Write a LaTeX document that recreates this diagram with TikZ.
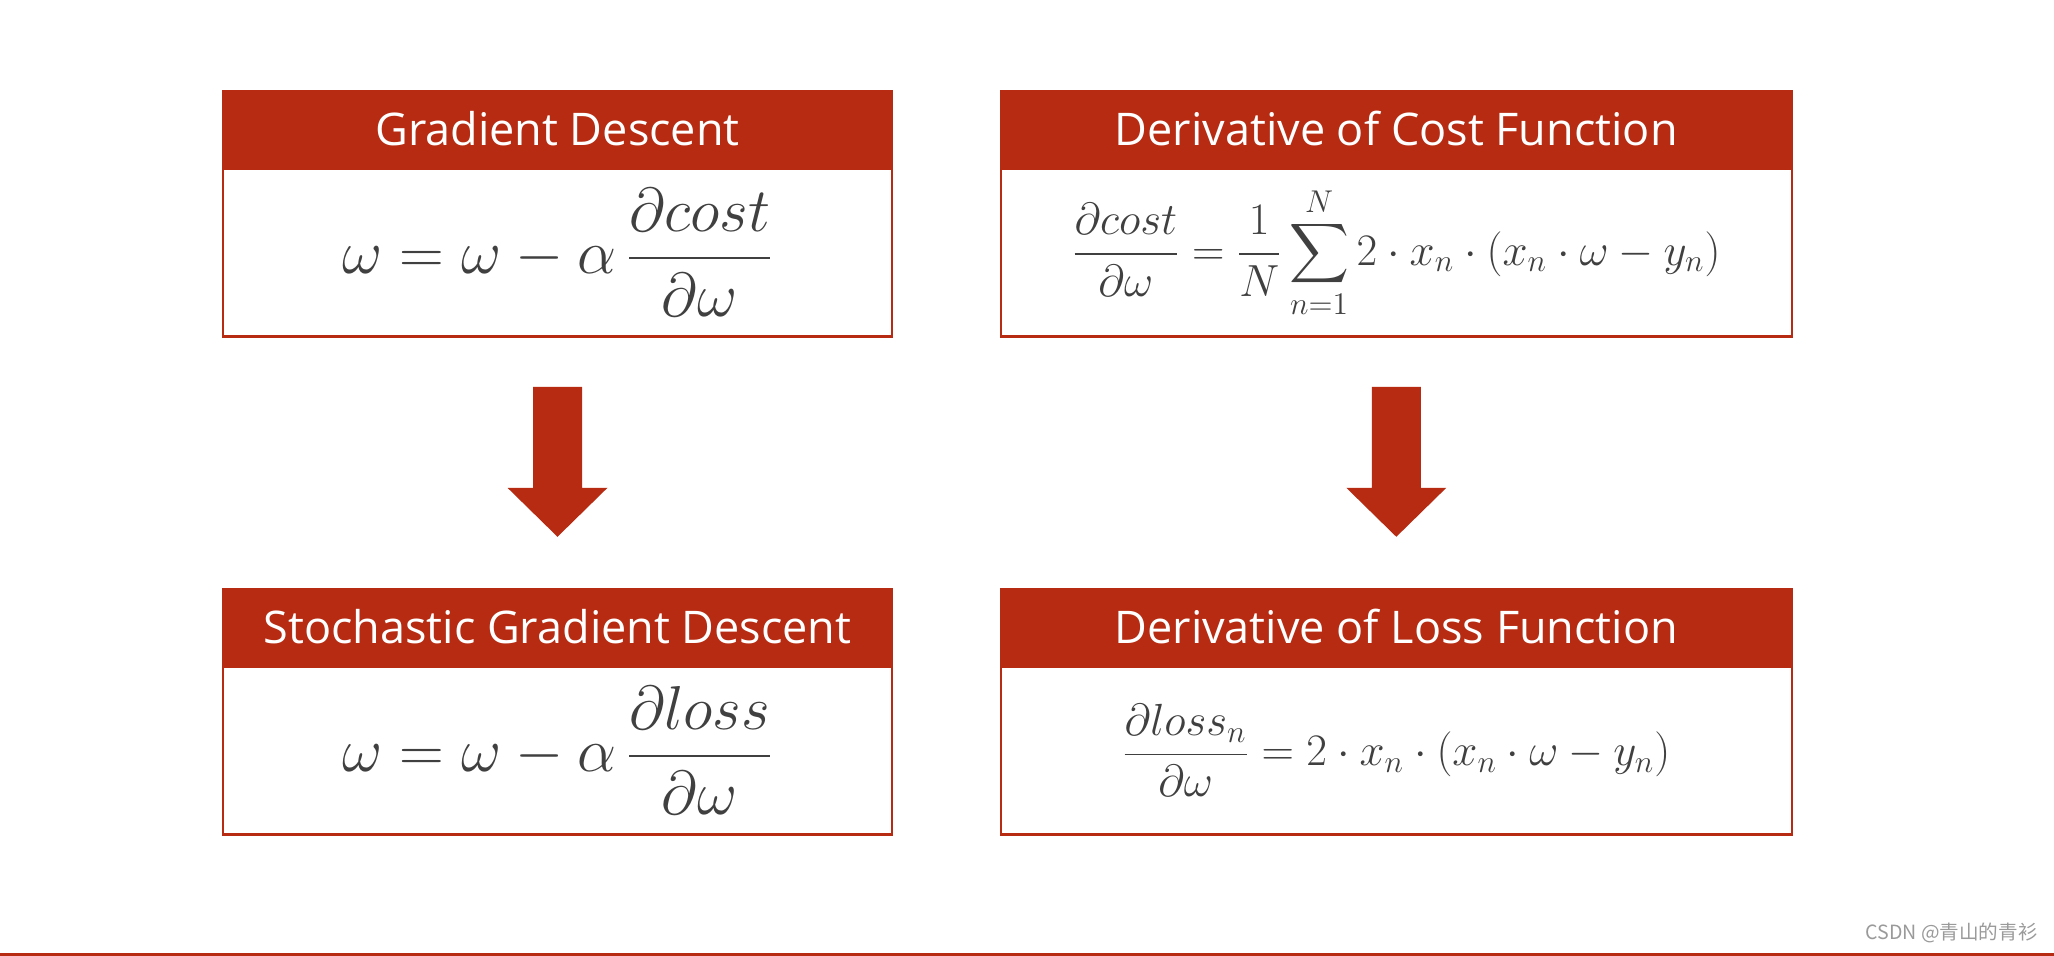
\RequirePackage{fix-cm}
\documentclass[tikz,border=0pt]{standalone}
\usepackage{amsmath}
\usepackage[no-math]{fontspec}
\setmainfont{Open Sans}
\newfontfamily\cjkfont{Noto Sans CJK SC}
\usetikzlibrary{positioning,calc}
\definecolor{boxred}{HTML}{B72B12}
\definecolor{inkgray}{HTML}{404040}
\definecolor{markgray}{HTML}{9A9A9A}

\begin{document}
\begin{tikzpicture}[
      head/.style={draw=boxred, fill=boxred, text=white, line width=1.2pt, inner sep=0pt,
                   minimum height=37.5pt, font=\fontsize{22.5}{26}\selectfont},
      body/.style={draw=boxred, fill=white, text=inkgray, line width=1.2pt, inner sep=0pt,
                   minimum height=84pt},
      bigmath/.style={font=\fontsize{31}{36}\selectfont},
      smallmath/.style={font=\fontsize{22.5}{26}\selectfont},
      blockarrow/.style={fill=boxred}]
    \useasboundingbox (0,0) rectangle (1027pt,-478pt);
    % top row
    \node[head, minimum width=334.5pt, anchor=north] (gdHead) at (278.75pt,-45pt) {Gradient Descent};
    \node[body, bigmath, minimum width=334.5pt, below=0pt of gdHead] (gdBody)
      {$\displaystyle \omega = \omega - \alpha\,\frac{\partial cost}{\partial\omega}$};
    \node[head, minimum width=395.5pt, right=53.2pt of gdHead] (dcHead) {Derivative of Cost Function};
    \node[body, smallmath, minimum width=395.5pt, below=0pt of dcHead] (dcBody)
      {$\displaystyle \frac{\partial cost}{\partial\omega} = \frac{1}{N}\sum_{n=1}^{N} 2\cdot x_n\cdot(x_n\cdot\omega - y_n)$};
    % bottom row
    \node[head, minimum width=334.5pt, below=125pt of gdBody] (sgdHead) {Stochastic Gradient Descent};
    \node[body, bigmath, minimum width=334.5pt, below=0pt of sgdHead] (sgdBody)
      {$\displaystyle \omega = \omega - \alpha\,\frac{\partial loss}{\partial\omega}$};
    \node[head, minimum width=395.5pt, below=125pt of dcBody] (dlHead) {Derivative of Loss Function};
    \node[body, smallmath, minimum width=395.5pt, below=0pt of dlHead] (dlBody)
      {$\displaystyle \frac{\partial loss_n}{\partial\omega} = 2\cdot x_n\cdot(x_n\cdot\omega - y_n)$};
    % block arrows
    \foreach \src in {gdBody, dcBody}
      \fill[blockarrow] ($(\src.south)+(-12.25pt,-24.5pt)$) -- ++(0,-50.5pt) -- ++(-12.75pt,0)
        -- ++(25pt,-24.5pt) -- ++(25pt,24.5pt) -- ++(-12.75pt,0) -- ++(0,50.5pt) -- cycle;
    % footer
    \draw[boxred, line width=1.65pt] (0,-477.2pt) -- (1027pt,-477.2pt);
    \node[anchor=base east, inner sep=0pt, text=markgray, font=\cjkfont\fontsize{9.8}{12}\selectfont]
      (mark) at (1019pt,-469.5pt) {CSDN @青山的青衫};
\end{tikzpicture}
\end{document}
